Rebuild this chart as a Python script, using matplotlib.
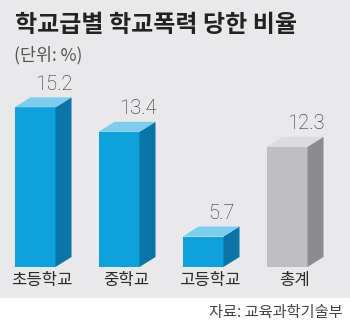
import matplotlib
matplotlib.use("Agg")
import matplotlib.pyplot as plt
from matplotlib.patches import Polygon, Rectangle

plt.rcParams['font.family'] = ['Noto Sans CJK KR', 'DejaVu Sans']

# ---------------- DATA ---------------- #
categories = ["초등학교", "중학교", "고등학교", "총계"]
values = [15.2, 13.4, 5.7, 12.3]
value_labels = ["15.2", "13.4", "5.7", "12.3"]
title = "학교급별 학교폭력 당한 비율"
unit = "(단위: %)"
source = "자료: 교육과학기술부"

# ---------------- STYLE ---------------- #
W, H = 350, 326
BG = "#e9e9eb"
blue = ("#0ea1dc", "#0a75a6", "#7fcdee")   # front, side, top
gray = ("#bfbfc1", "#8c8c8e", "#dcdcde")
face_sets = [blue, blue, blue, gray]

fig = plt.figure(figsize=(W / 100, H / 100), dpi=100)
fig.patch.set_facecolor("white")
fig.patches.append(Rectangle((0, 1 - 298 / H), 1, 298 / H, transform=fig.transFigure,
                             facecolor=BG, edgecolor="none", zorder=-5))

# axes: baseline at pixel 267 from top, spans full width
ax = fig.add_axes([0, 1 - 267 / H, 1, 267 / H])
ax.set_facecolor("none")
ax.set_zorder(2)
px_x = 84.0          # pixels per category step
px_y = 13.6          # pixels per %
x0 = 35.0            # pixel of first bar center
y_base = 3.46
ax.set_xlim(-x0 / px_x, (W - x0) / px_x)
ax.set_ylim(y_base, y_base + 267 / px_y)
ax.axis("off")

bar_w = 41 / px_x
dx = 16 / px_x
dy = 10 / px_y

for i, (v, cols) in enumerate(zip(values, face_sets)):
    front, side, top = cols
    l, r = i - bar_w / 2, i + bar_w / 2
    ax.add_patch(Rectangle((l, y_base), bar_w, v - y_base, facecolor=front, edgecolor="none", zorder=2))
    ax.add_patch(Polygon([(r, y_base), (r + dx, y_base + dy), (r + dx, v + dy), (r, v)],
                         closed=True, facecolor=side, edgecolor="none", zorder=2))
    ax.add_patch(Polygon([(l, v), (r, v), (r + dx, v + dy), (l + dx, v + dy)],
                         closed=True, facecolor=top, edgecolor="none", zorder=2))
    ax.text(r - 2 / px_x, v + dy + 0.95, value_labels[i], ha="center", va="center",
            fontsize=14.5, color="#2a2a2a", family="Roboto", fontweight="light")
    ax.text(i + 7 / px_x, y_base - 13 / px_y, categories[i], ha="center", va="center",
            fontsize=12, color="#2a2a2a", clip_on=False)

fig.text(15 / W, 1 - 25 / H, title, ha="left", va="center", fontsize=17.3,
         fontweight="bold", color="#222222")
fig.text(14 / W, 1 - 55 / H, unit, ha="left", va="center", fontsize=12.5,
         color="#555555")
fig.text(343 / W, 1 - 312 / H, source, ha="right", va="center", fontsize=11,
         color="#444444")

fig.savefig("out.png", dpi=100)
